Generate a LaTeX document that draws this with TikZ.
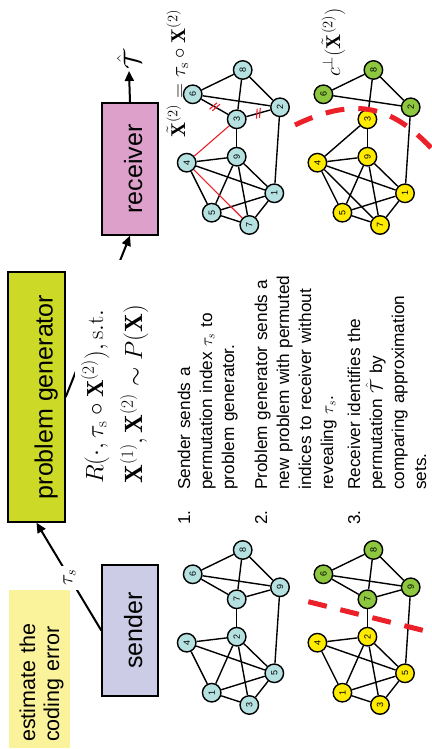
\documentclass[tikz,border=0pt]{standalone}
\usepackage{fontspec}
\newfontfamily\arial{Liberation Sans}
\usetikzlibrary{arrows.meta,calc}
\definecolor{estfill}{RGB}{251,242,156}
\definecolor{sendfill}{RGB}{204,204,230}
\definecolor{pgfill}{RGB}{204,218,39}
\definecolor{recfill}{RGB}{220,160,202}
\definecolor{nblue}{RGB}{181,225,225}
\definecolor{nyellow}{RGB}{255,235,0}
\definecolor{ngreen}{RGB}{141,198,63}
\definecolor{cutred}{RGB}{236,32,40}
\newcommand\cutmark[2]{%
  \coordinate (cmk) at ($(#1)!0.5!(#2)$);
  \draw[cutred,line width=1.1pt] ($(cmk)!1.6pt!(#2)!5pt!70:(#2)$) -- ($(cmk)!1.6pt!(#2)!5pt!-110:(#2)$);
  \draw[cutred,line width=1.1pt] ($(cmk)!-1.6pt!(#2)!5pt!70:(#2)$) -- ($(cmk)!-1.6pt!(#2)!5pt!-110:(#2)$);
}
\begin{document}
\begin{tikzpicture}[x=1pt,y=1pt,
  box/.style={draw=black,line width=1.4pt,inner sep=0pt,font=\arial\fontsize{25}{30}\selectfont,text height=24pt,text depth=0pt},
  gnode/.style={circle,draw=black,line width=1.4pt,minimum size=18.5pt,inner sep=0pt,font=\arial\fontsize{9}{10}\selectfont},
  bl/.style={gnode,fill=nblue},
  ye/.style={gnode,fill=nyellow},
  gr/.style={gnode,fill=ngreen},
  gedge/.style={line width=1.4pt},
  redge/.style={line width=1.1pt,draw=cutred},
  arr/.style={line width=2pt,-{Triangle[length=10pt,width=9pt]}},
  cutline/.style={draw=cutred,line width=5pt,dash pattern=on 19pt off 14pt},
  listtxt/.style={font=\arial\fontsize{17.2}{22}\selectfont,anchor=base west,align=left,inner sep=0pt},
  mathtxt/.style={font=\fontsize{20}{24}\selectfont,anchor=base west,inner sep=0pt}]
\path[use as bounding box] (0,0) rectangle (431,749);
\begin{scope}[rotate=90,transform shape]
% boxes
\node[fill=estfill,minimum width=158pt,minimum height=61pt,inner sep=0pt] (est) at (80,-39.5) {};
\node[font=\arial\fontsize{21.5}{24}\selectfont,anchor=base west,align=left,inner sep=0pt,text width=150pt] (esttext) at (7,-35) {estimate the\\coding error};
\node[box,fill=sendfill,minimum width=131pt,minimum height=56pt] (send) at (118.5,-130) {sender};
\node[box,fill=pgfill,minimum width=250pt,minimum height=57pt,text height=32pt] (pg) at (352,-36.5) {problem generator};
\node[box,fill=recfill,minimum width=132pt,minimum height=56pt] (rec) at (580,-130) {receiver};
% arrows
\draw[arr] (send.north) -- node[pos=0.49,fill=white,inner sep=4pt,font=\fontsize{21}{25}\selectfont] (taus) {$\tau_s$} (pg.west);
\draw[arr] (pg.south) -- (rec.west);
\node[font=\fontsize{25}{30}\selectfont,anchor=west,inner sep=1pt] (tauhat) at (678,-129) {$\hat{\mathcal{T}}$};
\draw[arr] (rec.east) -- (tauhat.west);
% formula
\node[fill=white,anchor=base west,align=left,inner xsep=2pt,inner ysep=6pt,text width=222pt,font=\fontsize{23.3}{39}\selectfont] (formula) at (263,-103)
  {$R(\cdot,\tau_{\mathrm{s}}\circ\mathbf{X}^{(2)}),\mathrm{s.t.}$\\\fontsize{25}{39}\selectfont$\mathbf{X}^{(1)},\mathbf{X}^{(2)}\sim P(\mathbf{X})$};
% list
\node[listtxt] (n1) at (224,-190) {1.};
\node[listtxt,text width=260pt] (i1) at (259,-190) {Sender sends a\\permutation index $\tau_s$ to\\problem generator.};
\node[listtxt] (n2) at (224,-267) {2.};
\node[listtxt,text width=260pt] (i2) at (259,-267) {Problem generator sends a\\new problem with permuted\\indices to receiver without\\revealing $\tau_s$.};
\node[listtxt] (n3) at (224,-360) {3.};
\node[listtxt,text width=260pt] (i3) at (259,-360) {Receiver identifies the\\permutation $\hat{\mathcal{T}}$ by\\comparing approximation\\sets.};
% labels
\node[mathtxt] (xt) at (611,-185) {$\tilde{\mathbf{X}}^{(2)}=\tau_{\mathrm{s}}\circ\mathbf{X}^{(2)}$};
\node[mathtxt] (cperp) at (672,-340) {$c^{\perp}(\tilde{\mathbf{X}}^{(2)})$};
% graph a (sender, blue)
\foreach \l/\u/\v in {8/199/242.7,6/174.7/192.7,9/161.7/280,7/149.7/236.7,2/112.3/236.7,4/106.3/186.7,5/75.7/274.3,1/56.3/211.7,3/44/249.3}
  \node[bl] (a\l) at ({\u},{-\v}) {\l};
% graph b (sender, coloured)
\foreach \l/\u/\v/\s in {8/199/242.7/gr,6/174.7/192.7/gr,9/161.7/280/gr,7/149.7/236.7/gr,2/112.3/236.7/ye,4/106.3/186.7/ye,5/75.7/274.3/ye,1/56.3/211.7/ye,3/44/249.3/ye}
  \node[\s] (b\l) at ({\u},{-\v-130.7}) {\l};
% graph c (receiver, blue)
\foreach \l/\u/\v in {8/199/242.7,6/174.7/192.7,2/161.7/280,3/149.7/236.7,9/112.3/236.7,4/106.3/186.7,1/75.7/274.3,5/56.3/211.7,7/44/249.3}
  \node[bl] (c\l) at ({\u+480},{-\v}) {\l};
% graph d (receiver, coloured)
\foreach \l/\u/\v/\s in {8/199/242.7/gr,6/174.7/192.7/gr,2/161.7/280/gr,3/149.7/236.7/ye,9/112.3/236.7/ye,4/106.3/186.7/ye,1/75.7/274.3/ye,5/56.3/211.7/ye,7/44/249.3/ye}
  \node[\s] (d\l) at ({\u+480},{-\v-130.7}) {\l};
% edges
\foreach \p/\q in {8/6,8/7,8/9,6/7,6/9,7/9,7/2,2/4,2/1,2/5,2/3,4/1,4/5,1/5,1/3,3/5,9/5}
  {\draw[gedge] (a\p) -- (a\q); \draw[gedge] (b\p) -- (b\q);}
\foreach \p/\q in {8/6,8/3,8/2,6/2,3/9,9/4,9/5,9/1,9/7,4/5,4/1,5/1,5/7,7/1,2/1}
  {\draw[gedge] (c\p) -- (c\q); \draw[gedge] (d\p) -- (d\q);}
\draw[gedge] (c6) -- (c3);
\draw[gedge] (c3) -- (c2);
\cutmark{c6}{c3}
\cutmark{c3}{c2}
\draw[redge] (c3) -- (c4);
\draw[redge] (c4) -- (c7);
\draw[gedge] (d3) -- (d4);
\draw[gedge] (d4) -- (d7);
% cuts
\draw[cutline] (147.3,-308.3) -- (117.3,-428.3);
\draw[cutline] (624,-295) .. controls (655,-360) and (640,-395) .. (598,-434);
\end{scope}
\end{tikzpicture}
\end{document}
